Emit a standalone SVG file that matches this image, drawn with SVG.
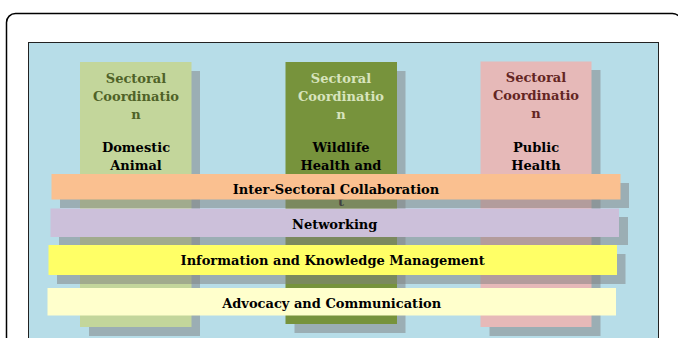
<svg xmlns="http://www.w3.org/2000/svg" width="678" height="338" viewBox="0 0 678 338">
  <style>
    .shadow { fill: #7f7f7f; fill-opacity: 0.5; }
    .head { font-family: "DejaVu Serif", "Liberation Serif", serif; font-size: 13px; font-weight: bold; text-anchor: middle; }
    .label { font-family: "DejaVu Serif", "Liberation Serif", serif; font-size: 13px; font-weight: bold; text-anchor: middle; fill: #000; }
  </style>
  <rect x="0" y="0" width="678" height="338" fill="#ffffff"/>
  <!-- outer frame -->
  <rect x="6.5" y="13.5" width="675" height="340" rx="9" fill="#ffffff" stroke="#000" stroke-width="1.5"/>
  <!-- background panel -->
  <rect x="28.5" y="42.5" width="630" height="310" fill="#b7dde8" stroke="#222" stroke-width="1"/>

  <!-- sector columns -->
  <g id="domestic-animal">
    <rect class="shadow" x="89" y="71" width="111" height="265"/>
    <rect x="80" y="62" width="111.5" height="265" fill="#c3d69b"/>
    <text class="head" fill="#4f6228" x="136" y="82.5">Sectoral</text>
    <text class="head" fill="#4f6228" x="136" y="100.5">Coordinatio</text>
    <text class="head" fill="#4f6228" x="136" y="118.5">n</text>
    <text class="label" x="136" y="152">Domestic</text>
    <text class="label" x="136" y="170">Animal</text>
  </g>
  <g id="wildlife-health">
    <rect class="shadow" x="294.5" y="71" width="111" height="262"/>
    <rect x="285.5" y="62" width="111.5" height="262" fill="#77933c"/>
    <text class="head" fill="#d7e4bd" x="341" y="82.5">Sectoral</text>
    <text class="head" fill="#d7e4bd" x="341" y="100.5">Coordinatio</text>
    <text class="head" fill="#d7e4bd" x="341" y="118.5">n</text>
    <text class="label" x="341" y="152">Wildlife</text>
    <text class="label" x="341" y="170">Health and</text>
    <text class="label" x="341" y="206">t</text>
  </g>
  <g id="public-health">
    <rect class="shadow" x="489.5" y="70" width="111" height="266"/>
    <rect x="480.5" y="61.5" width="111" height="265.5" fill="#e6b9b8"/>
    <text class="head" fill="#632523" x="536" y="82">Sectoral</text>
    <text class="head" fill="#632523" x="536" y="100">Coordinatio</text>
    <text class="head" fill="#632523" x="536" y="118">n</text>
    <text class="label" x="536" y="152">Public</text>
    <text class="label" x="536" y="170">Health</text>
  </g>

  <!-- cross-cutting bars -->
  <g id="inter-sectoral">
    <rect class="shadow" x="60" y="183" width="569" height="25"/>
    <rect x="51.5" y="174" width="569" height="25.5" fill="#fac090"/>
    <text class="label" x="336" y="194">Inter-Sectoral Collaboration</text>
  </g>
  <g id="networking">
    <rect class="shadow" x="59" y="217" width="569" height="28"/>
    <rect x="50.5" y="208.5" width="568.5" height="28.5" fill="#ccc0da"/>
    <text class="label" x="334.7" y="229">Networking</text>
  </g>
  <g id="information-knowledge">
    <rect class="shadow" x="57" y="254" width="568.5" height="30"/>
    <rect x="48.5" y="245" width="568.5" height="30" fill="#ffff66"/>
    <text class="label" x="332.7" y="265">Information and Knowledge Management</text>
  </g>
  <g id="advocacy">
    <rect x="47.5" y="288" width="568.5" height="27.5" fill="#ffffcc"/>
    <text class="label" x="331.7" y="308">Advocacy and Communication</text>
  </g>
</svg>
